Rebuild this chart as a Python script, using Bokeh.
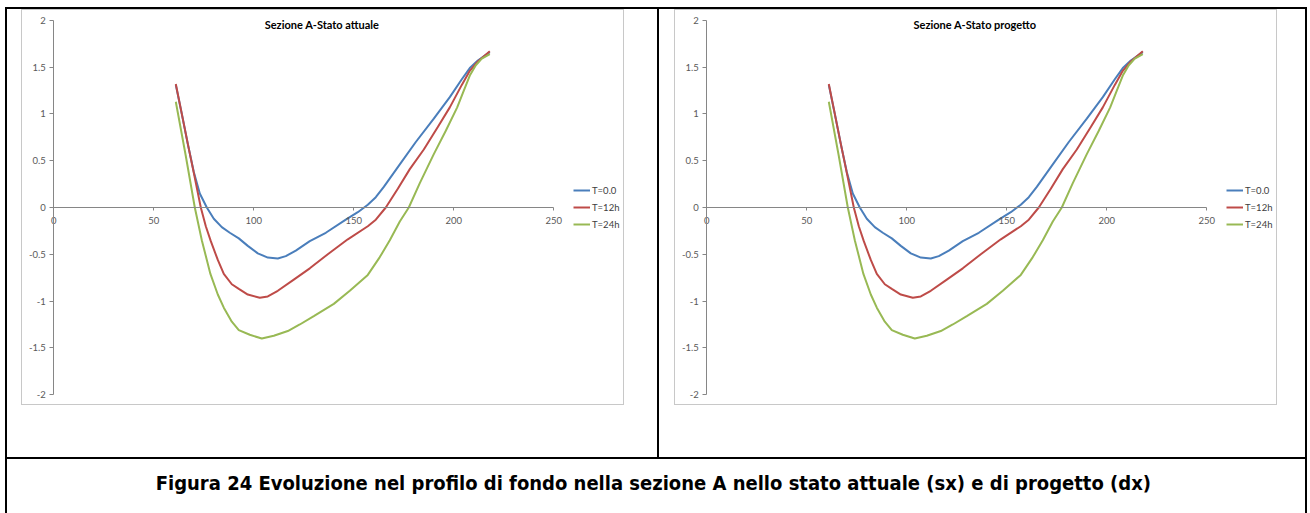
from bokeh.plotting import figure
from bokeh.layouts import row, column
from bokeh.models import (Range1d, LinearAxis, FixedTicker, CustomJSTickFormatter,
                          Legend, LegendItem, Label, Spacer)
from bokeh.embed import file_html
from bokeh.resources import INLINE

# Bed profile at section A: distance (m) vs bed elevation (m) at three times
T0_X = [61, 64, 67, 70, 73, 76.5, 80, 84, 88, 92.5, 97, 102, 107, 112, 116, 121,
        128, 136, 146, 152, 157, 161, 165, 173, 181, 190, 198, 204, 208, 212, 218]
T0_Y = [1.31, 1.0, 0.68, 0.38, 0.15, 0.0, -0.12, -0.21, -0.27, -0.33, -0.41, -0.49,
        -0.535, -0.545, -0.52, -0.46, -0.36, -0.27, -0.13, -0.05, 0.03, 0.11, 0.22,
        0.46, 0.70, 0.95, 1.18, 1.37, 1.49, 1.57, 1.66]

T12_X = [61, 64, 67, 70, 73.5, 76, 78.5, 82, 85, 89, 92.5, 97, 103, 107, 112, 120,
         128, 137, 147, 157, 161, 166, 172, 178, 185, 192, 198, 204, 208, 212, 218]
T12_Y = [1.32, 1.0, 0.68, 0.37, 0.0, -0.20, -0.36, -0.56, -0.71, -0.82, -0.87, -0.93,
         -0.965, -0.95, -0.89, -0.77, -0.65, -0.50, -0.34, -0.20, -0.13, 0.0, 0.20,
         0.41, 0.62, 0.86, 1.07, 1.31, 1.46, 1.56, 1.67]

T24_X = [61, 66, 70.5, 74, 78.3, 82, 85, 89, 92.5, 98, 104, 110, 117, 123, 130, 140,
         148, 157, 163, 168, 173, 177.5, 183, 190, 196, 201.7, 205, 208, 211, 214, 218]
T24_Y = [1.13, 0.55, 0.0, -0.35, -0.71, -0.93, -1.07, -1.22, -1.31, -1.36, -1.40, -1.37,
         -1.32, -1.25, -1.16, -1.03, -0.89, -0.72, -0.53, -0.35, -0.15, 0.0, 0.26, 0.57,
         0.82, 1.07, 1.25, 1.41, 1.52, 1.59, 1.64]

SERIES_LABELS = ["T=0.0", "T=12h", "T=24h"]
SERIES_COLORS = ["#4A7EBB", "#BE4B48", "#98B954"]

X_TICKS = [0, 50, 100, 150, 200, 250]
Y_TICKS = [-2, -1.5, -1, -0.5, 0, 0.5, 1, 1.5, 2]

TITLES = ["Sezione A-Stato attuale", "Sezione A-Stato progetto"]
CAPTION = ("Figura 24 Evoluzione nel profilo di fondo nella sezione A "
           "nello stato attuale (sx) e di progetto  (dx)")

AXIS_GRAY = "#868686"
LABEL_GRAY = "#595959"
FRAME_GRAY = "#C8C8C8"
FONT = "Lato"

CHART_W, CHART_H = 601, 394


def bar(w, h, color):
    return Spacer(width=w, height=h, margin=0, styles={"background-color": color})


def make_chart(title):
    # the frame fills the whole chart box; axes sit on x=0 and y=0 inside it
    p = figure(width=CHART_W, height=CHART_H,
               x_range=Range1d(-15.65, 284.85), y_range=Range1d(-2.105, 2.105),
               output_backend="svg", toolbar_location=None,
               x_axis_type=None, y_axis_type=None, min_border=0)
    p.outline_line_color = None
    p.background_fill_color = "white"
    p.border_fill_color = "white"

    xaxis = LinearAxis(ticker=FixedTicker(ticks=X_TICKS), fixed_location=0,
                       bounds=(X_TICKS[0], X_TICKS[-1]))
    yaxis = LinearAxis(ticker=FixedTicker(ticks=Y_TICKS), fixed_location=0,
                       bounds=(Y_TICKS[0], Y_TICKS[-1]),
                       formatter=CustomJSTickFormatter(code="return tick.toString()"))
    for ax in (xaxis, yaxis):
        ax.axis_line_color = AXIS_GRAY
        ax.major_tick_line_color = AXIS_GRAY
        ax.minor_tick_line_color = None
        ax.major_tick_in = 0
        ax.major_label_text_color = LABEL_GRAY
        ax.major_label_text_font = FONT
        ax.major_label_text_font_size = "9.5px"
    xaxis.major_tick_out = 3
    xaxis.major_label_standoff = 6
    yaxis.major_tick_out = 4
    yaxis.major_label_standoff = 4
    p.add_layout(xaxis, "below")
    p.add_layout(yaxis, "left")

    renderers = []
    for xs, ys, color in zip((T0_X, T12_X, T24_X), (T0_Y, T12_Y, T24_Y), SERIES_COLORS):
        renderers.append(p.line(xs, ys, line_color=color, line_width=2))

    legend = Legend(items=[LegendItem(label=lab, renderers=[r])
                           for lab, r in zip(SERIES_LABELS, renderers)],
                    location=(551, 172), orientation="vertical",
                    glyph_width=17, glyph_height=16, label_height=16,
                    label_standoff=2, spacing=1, padding=0, margin=0,
                    border_line_color=None, background_fill_alpha=0,
                    label_text_font=FONT, label_text_font_size="9.5px",
                    label_text_color="#404040")
    p.add_layout(legend)

    p.add_layout(Label(x=299.5, y=380, x_units="screen", y_units="screen", text=title,
                       text_align="center", text_baseline="middle",
                       text_font=FONT, text_font_style="bold",
                       text_font_size="11px", text_color="black"))
    return p


def framed(fig):
    return column(
        bar(CHART_W + 2, 1, FRAME_GRAY),
        row(bar(1, CHART_H, FRAME_GRAY), fig, bar(1, CHART_H, FRAME_GRAY)),
        bar(CHART_W + 2, 1, FRAME_GRAY),
    )


left = make_chart(TITLES[0])
right = make_chart(TITLES[1])

left_cell = column(row(Spacer(width=14, height=396), framed(left), Spacer(width=33, height=396)),
                   Spacer(width=650, height=52))
right_cell = column(row(Spacer(width=15, height=396), framed(right), Spacer(width=28, height=396)),
                    Spacer(width=646, height=52))

cap = figure(width=1298, height=54, output_backend="svg", toolbar_location=None,
             x_axis_type=None, y_axis_type=None, min_border=0)
cap.outline_line_color = None
cap.add_layout(Label(x=649, y=31, x_units="screen", y_units="screen", text=CAPTION,
                     text_align="center", text_baseline="alphabetic",
                     text_font="DejaVu Sans Condensed", text_font_style="bold",
                     text_font_size="20px", text_color="black"))

page = column(
    Spacer(width=1310, height=7),
    row(Spacer(width=5, height=2), bar(1302, 2, "black")),
    row(Spacer(width=5, height=448), bar(2, 448, "black"), left_cell,
        bar(2, 448, "black"), right_cell, bar(2, 448, "black")),
    row(Spacer(width=5, height=2), bar(1302, 2, "black")),
    row(Spacer(width=5, height=54), bar(2, 54, "black"), cap, bar(2, 54, "black")),
)

open("out.html", "w").write(file_html(page, INLINE))
